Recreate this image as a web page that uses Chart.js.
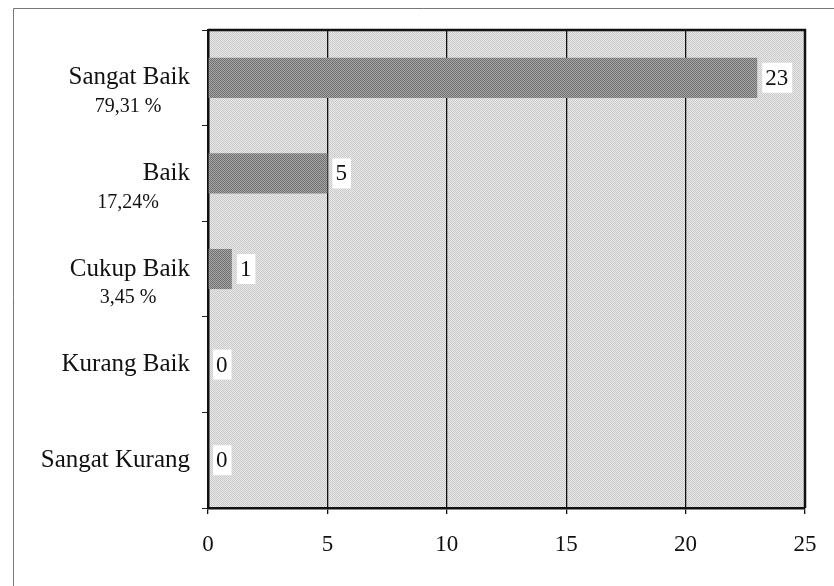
<!DOCTYPE html>
<html lang="id">
  <head>
    <meta charset="UTF-8" />
    <title>Kategori Penilaian</title>
    <script src="https://cdn.jsdelivr.net/npm/chart.js"></script>
    <style>
      body {
        margin: 0;
        background: #fff;
      }
      .wrap {
        position: relative;
        width: 834px;
        height: 586px;
      }
    </style>
  </head>
  <body>
    <div class="wrap">
      <canvas id="chart" width="834" height="586"></canvas>
    </div>

    <script>
      const categories = ["Sangat Baik", "Baik", "Cukup Baik", "Kurang Baik", "Sangat Kurang"];
      const values = [23, 5, 1, 0, 0];
      const percents = ["79,31 %", "17,24%", "3,45 %", "", ""];
      const xTicks = [0, 5, 10, 15, 20, 25];

      const serif = "'Liberation Serif', 'Times New Roman', serif";

      function makePattern(dark, light) {
        const c = document.createElement("canvas");
        c.width = 2;
        c.height = 2;
        const g = c.getContext("2d");
        g.fillStyle = light;
        g.fillRect(0, 0, 2, 2);
        g.fillStyle = dark;
        g.fillRect(0, 0, 1, 1);
        g.fillRect(1, 1, 1, 1);
        return g.createPattern(c, "repeat");
      }

      const barFill = makePattern("#6e6e6e", "#a8a8a8");
      const plotFill = makePattern("#cacaca", "#e8e8e8");

      // outer frame + plot background + top/right plot border
      const framePlugin = {
        id: "frame",
        beforeDraw(chart) {
          const { ctx, chartArea: a } = chart;
          ctx.save();
          ctx.strokeStyle = "#777";
          ctx.lineWidth = 1;
          ctx.beginPath();
          ctx.moveTo(13.5, 586);
          ctx.lineTo(13.5, 8.5);
          ctx.lineTo(834, 8.5);
          ctx.stroke();
          ctx.fillStyle = plotFill;
          ctx.fillRect(a.left, a.top, a.right - a.left, a.bottom - a.top);
          ctx.restore();
        },
        afterDraw(chart) {
          const { ctx, chartArea: a } = chart;
          ctx.save();
          ctx.strokeStyle = "#111";
          ctx.lineWidth = 2.5;
          ctx.beginPath();
          ctx.moveTo(a.left, a.top);
          ctx.lineTo(a.right, a.top);
          ctx.lineTo(a.right, a.bottom);
          ctx.stroke();

          // value labels with white boxes
          const meta = chart.getDatasetMeta(0);
          ctx.font = "23px " + serif;
          ctx.textBaseline = "middle";
          ctx.textAlign = "left";
          meta.data.forEach((bar, i) => {
            const txt = String(values[i]);
            const w = ctx.measureText(txt).width;
            const x = bar.x + 5;
            ctx.fillStyle = "#fff";
            ctx.fillRect(x, bar.y - 15, w + 7, 30);
            ctx.fillStyle = "#111";
            ctx.fillText(txt, x + 3, bar.y + 1);
          });

          // percentage under category labels
          const y = chart.scales.y;
          ctx.font = "20px " + serif;
          ctx.textAlign = "center";
          percents.forEach((p, i) => {
            if (!p) return;
            ctx.fillText(p, 128, y.getPixelForValue(i) + 29);
          });
          ctx.restore();
        },
      };

      new Chart(document.getElementById("chart"), {
        type: "bar",
        data: {
          labels: categories,
          datasets: [
            {
              data: values,
              backgroundColor: barFill,
              borderWidth: 0,
              barPercentage: 0.42,
              categoryPercentage: 1,
            },
          ],
        },
        options: {
          indexAxis: "y",
          responsive: false,
          animation: false,
          layout: { padding: { top: 30, right: 29, left: 0, bottom: 0 } },
          plugins: {
            legend: { display: false },
            tooltip: { enabled: false },
          },
          scales: {
            x: {
              min: 0,
              max: 25,
              afterBuildTicks: (s) => {
                s.ticks = xTicks.map((v) => ({ value: v }));
              },
              afterFit: (s) => {
                s.height = 78;
              },
              grid: {
                color: "#111",
                lineWidth: 1.3,
                tickLength: 6,
                drawTicks: true,
              },
              border: { color: "#111", width: 2.5 },
              ticks: {
                color: "#111",
                padding: 17,
                font: { family: serif, size: 23 },
              },
            },
            y: {
              afterFit: (s) => {
                s.width = 208;
              },
              grid: {
                offset: true,
                drawOnChartArea: false,
                color: "#222",
                tickLength: 6,
              },
              border: { color: "#111", width: 2.5 },
              ticks: {
                color: "#111",
                padding: 12,
                font: { family: serif, size: 25 },
              },
            },
          },
        },
        plugins: [framePlugin],
      });
    </script>
  </body>
</html>
